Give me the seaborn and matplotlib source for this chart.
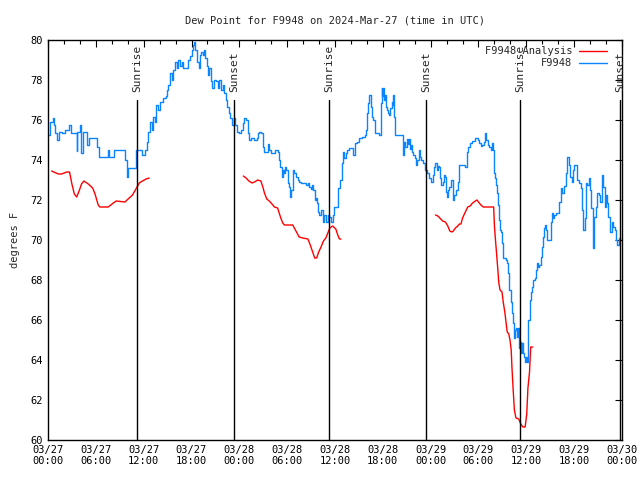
import numpy as np
import pandas as pd
import matplotlib
matplotlib.use('Agg')
import matplotlib.pyplot as plt
from matplotlib.lines import Line2D
import seaborn as sns

# hours since 2024-03-27 00:00 UTC, dew point in F
obs_hours = [0.0, 0.25, 0.6, 0.75, 0.9, 1.1, 1.4, 1.8, 2.1, 2.6, 2.9, 3.4, 3.6, 3.7, 4.05, 4.2, 4.4, 4.7,
             4.9, 5.1, 6.0, 6.2, 6.35, 7.3, 7.5, 7.7, 8.3, 9.5, 9.65, 9.9, 10.0, 10.8, 11.05, 11.5, 11.8,
             12.17, 12.4, 12.6, 12.8, 13.0, 13.2, 13.4, 13.6, 13.85, 14.05, 14.45, 14.8, 14.9, 15.1, 15.3,
             15.5, 15.7, 15.9, 16.15, 16.35, 16.55, 16.75, 16.9, 17.4, 17.5, 17.8, 18.0, 18.2, 18.35, 18.5,
             18.75, 18.9, 19.05, 19.25, 19.4, 19.55, 19.7, 19.9, 20.1, 20.25, 20.4, 20.6, 20.8, 21.1, 21.3,
             21.5, 21.7, 21.9, 22.1, 22.3, 22.5, 22.65, 22.8, 23.1, 23.35, 23.45, 23.65,
             24.0, 24.2, 24.4, 24.6, 24.85, 25.05, 25.2, 25.45, 25.9, 26.2, 26.3, 26.5, 26.7, 26.95, 27.15,
             27.45, 27.65, 27.75, 27.95, 28.25, 28.5, 28.8, 28.95, 29.15, 29.3, 29.5, 29.65, 29.75, 29.85,
             30.05, 30.25, 30.4, 30.5, 30.7, 30.9, 31.1, 31.3, 31.5, 31.75, 32.35, 32.6, 32.8, 33.0, 33.1,
             33.3, 33.45, 33.6, 33.75, 33.85, 34.05, 34.25, 34.45, 34.65, 34.85, 35.1, 35.3, 35.5, 35.7,
             35.85, 36.4, 36.6, 36.85, 36.9, 37.05, 37.15, 37.4, 37.55, 37.8, 38.1, 38.3, 38.5, 38.7, 39.05,
             39.35, 39.75, 39.9, 40.05, 40.2, 40.3, 40.5, 40.6, 40.8, 41.0, 41.55, 41.75, 41.85, 41.95,
             42.05, 42.2, 42.3, 42.4, 42.55, 42.7, 42.8, 42.95, 43.1, 43.25, 43.3, 43.45, 43.55, 44.25,
             44.5, 44.65, 44.8, 45.0, 45.1, 45.25, 45.4, 45.55, 45.65, 45.8, 46.05, 46.15, 46.3, 46.5,
             46.65, 46.85, 47.05, 47.3, 47.5, 47.6, 47.8, 48.05, 48.25, 48.45, 48.6, 48.75, 48.9, 49.1,
             49.2, 49.35, 49.5, 49.7, 49.85, 49.9, 50.05, 50.2, 50.35, 50.55, 50.7, 50.75, 50.85, 50.95,
             51.2, 51.4, 51.6, 52.35, 52.5, 52.7, 52.95, 53.2, 53.5, 53.7, 53.9, 54.1, 54.3, 54.5, 54.75,
             54.85, 54.95, 55.15, 55.35, 55.55, 55.7, 55.8, 55.9, 56.05, 56.2, 56.35, 56.45, 56.55, 56.65,
             56.8, 56.95, 57.05, 57.1, 57.45, 57.6, 57.7, 57.85, 58.05, 58.1, 58.2, 58.3, 58.45, 58.6,
             58.75, 58.8, 58.9, 59.05, 59.2, 59.3, 59.45, 59.55, 59.7, 59.85, 59.95, 60.1, 60.25, 60.4,
             60.55, 60.65, 60.8, 61.1, 61.2, 61.4, 61.5, 61.65, 61.8, 61.95, 62.05, 62.2, 62.35, 62.45,
             62.65, 62.9, 63.05, 63.2, 63.4, 63.5, 63.7, 63.9, 64.1, 64.3, 64.5, 64.75, 64.95, 65.15,
             65.3, 65.5, 65.7, 65.8, 66.0, 66.2, 66.4, 66.65, 66.85, 67.0, 67.15, 67.3, 67.45, 67.65,
             67.85, 68.0, 68.15, 68.3, 68.4, 68.55, 68.75, 68.9, 69.1, 69.3, 69.5, 69.65, 69.85, 70.05,
             70.15, 70.3, 70.5, 70.7, 70.9, 71.1, 71.3, 71.4, 71.6, 71.75]
obs_dp = [75.25, 75.9, 76.1, 75.75, 75.35, 75.0, 75.4, 75.35, 75.5, 75.75, 75.35, 75.35, 74.45, 75.4, 75.75,
          74.35, 75.4, 75.4, 74.75, 75.1, 75.1, 74.65, 74.15, 74.15, 74.5, 74.15, 74.5, 74.5, 74.0, 73.15,
          73.6, 73.6, 74.5, 74.5, 74.25,
          74.5, 74.9, 75.4, 75.9, 75.5, 76.15, 75.9, 76.75, 76.5, 76.9, 77.1, 77.2, 77.5, 77.75, 78.35,
          78.0, 78.5, 78.9, 78.6, 79.0, 78.7, 78.9, 78.6, 78.6, 79.0, 79.2, 79.5, 79.75, 79.9, 79.5,
          78.9, 78.6, 79.25, 79.4, 79.25, 79.5, 79.1, 78.7, 78.25, 78.6, 77.95, 77.6, 78.0, 77.95, 77.6,
          78.0, 77.5, 77.75, 77.35, 77.0, 76.65, 76.35, 76.1, 75.75, 76.1, 75.75, 75.4,
          75.35, 75.5, 75.85, 76.1, 76.0, 75.35, 75.0, 75.1, 75.0, 75.1, 75.35, 75.4, 75.35, 74.65, 74.4,
          74.4, 74.8, 74.5, 74.35, 74.35, 74.5, 74.4, 74.0, 73.65, 73.15, 73.5, 73.35, 73.65, 73.5,
          72.85, 72.65, 72.15, 72.5, 73.5, 73.35, 73.15, 73.0, 72.9, 72.85, 72.75, 72.85, 72.65, 72.55,
          72.75, 72.5, 72.0, 72.1, 71.85, 71.4, 71.25, 71.5, 70.9, 71.25, 70.9, 71.25, 71.15, 70.9, 71.25,
          71.65, 72.6, 73.0, 73.15, 73.85, 74.4, 74.1, 74.35, 74.5, 74.6, 74.6, 74.25, 74.85, 74.9, 75.1,
          75.15, 75.25, 75.5, 76.35, 76.85, 77.25, 76.65, 76.15, 76.0, 75.35, 75.25, 76.85, 77.6, 77.2,
          77.6, 77.0, 77.25, 76.65, 76.5, 76.35, 76.25, 76.6, 76.9, 76.75, 77.25, 76.15, 75.25, 75.25,
          74.25, 74.9, 74.65, 75.05, 74.8, 75.05, 74.55, 74.75, 74.4, 74.25, 74.1, 73.75, 74.0, 74.5,
          74.15, 74.0, 73.85, 73.5, 73.4, 73.35, 73.1, 72.9, 73.25, 73.65, 73.85, 73.5, 73.7, 73.65,
          73.1, 72.75, 72.9, 73.25, 73.15, 72.4, 72.15, 72.5, 72.65, 73.0, 73.0, 72.65, 72.0, 72.25,
          72.5, 72.9, 73.75, 73.65, 74.4, 74.65, 74.85, 74.95, 75.1, 75.1, 75.0, 74.85, 74.7, 74.75, 74.9,
          75.35, 75.0, 74.75, 74.65, 74.5, 74.85, 74.5, 73.35, 73.1, 72.75, 72.35, 71.75, 71.0, 70.5,
          70.4, 69.85, 69.35, 69.1, 69.0, 68.85, 68.35, 67.5, 67.4, 66.9, 66.35, 65.85, 65.1, 65.5,
          65.6, 65.15, 65.6, 64.6, 64.9, 64.35, 64.85, 64.35, 64.15, 63.9, 64.15, 63.9, 66.0, 67.0,
          67.4, 67.65, 68.0, 68.1, 68.5, 68.85, 68.65, 68.75, 69.15, 69.65, 70.15, 70.6, 70.75, 70.5,
          70.0, 70.0, 70.9, 71.35, 71.1, 71.25, 71.35, 71.35, 71.9, 72.6, 72.35, 72.7, 73.35, 74.15,
          73.75, 73.15, 72.9, 73.5, 73.75, 73.75, 73.0, 72.85, 72.6, 71.5, 70.5, 71.1, 72.85, 72.75,
          73.1, 72.5, 71.6, 70.75, 69.6, 71.15, 71.65, 72.35, 72.25, 71.9, 73.25, 72.65, 71.65, 72.25,
          71.85, 71.15, 70.4, 70.9, 70.65, 70.5, 70.0, 69.75, 70.1, 70.0]

# analysis series, three separate runs
ana_hours = [0.45, 1.3, 1.7, 2.35, 2.7, 3.0, 3.3, 3.6, 3.95, 4.2, 4.5, 5.05, 5.6, 5.9, 6.3, 6.5, 7.55,
             8.2, 8.55, 9.65, 10.05, 10.6, 11.1, 11.45, 11.85, 12.3, 12.7,
             24.5, 24.85, 25.2, 25.6, 25.9, 26.3, 26.7, 26.95, 27.15, 27.45, 27.75, 28.1, 28.4, 28.8, 29.0,
             29.2, 29.45, 29.65, 30.7, 31.1, 31.5, 31.95, 32.6, 32.85, 33.2, 33.45, 33.7, 33.95, 34.25,
             34.55, 34.85, 35.1, 35.35, 35.7, 36.1, 36.35, 36.55, 36.75,
             48.6, 48.9, 49.15, 49.5, 49.85, 50.15, 50.4, 50.65, 50.85, 51.1, 51.4, 51.6, 51.8, 52.0,
             52.35, 52.65, 52.95, 53.25, 53.6, 53.8, 54.0, 54.3, 54.6, 55.9, 56.0, 56.1, 56.3, 56.4, 56.55,
             56.7, 56.95, 57.1, 57.3, 57.45, 57.6, 57.8, 57.95, 58.1, 58.2, 58.35, 58.5, 58.7, 59.05,
             59.25, 59.55, 59.85, 60.05, 60.2, 60.4, 60.55, 60.8]
ana_dp = [73.45, 73.3, 73.3, 73.4, 73.4, 72.8, 72.3, 72.15, 72.5, 72.8, 72.95, 72.8, 72.6, 72.3, 71.75,
          71.65, 71.65, 71.85, 71.95, 71.9, 72.05, 72.25, 72.6, 72.85, 72.95, 73.05, 73.1,
          73.2, 73.1, 72.95, 72.85, 72.9, 73.0, 72.95, 72.65, 72.35, 72.05, 71.95, 71.8, 71.65, 71.6,
          71.35, 71.1, 70.85, 70.75, 70.75, 70.45, 70.15, 70.1, 70.05, 69.8, 69.4, 69.1, 69.1, 69.4,
          69.65, 69.95, 70.1, 70.35, 70.6, 70.7, 70.55, 70.25, 70.05, 70.05,
          71.25, 71.2, 71.1, 70.95, 70.9, 70.7, 70.45, 70.4, 70.45, 70.6, 70.7, 70.8, 70.8, 71.1,
          71.4, 71.65, 71.7, 71.85, 71.95, 72.0, 71.9, 71.75, 71.65, 71.65, 70.7, 70.15, 69.15, 68.65,
          67.85, 67.5, 67.4, 66.9, 66.4, 65.9, 65.4, 65.3, 65.0, 64.5, 63.6, 62.5, 61.5, 61.1, 61.05,
          60.85, 60.65, 60.65, 61.3, 62.6, 63.4, 64.65, 64.65]
ana_run = [1] * 27 + [2] * 38 + [3] * 51

event_hours = [11.15, 23.3, 35.25, 47.4, 59.2, 71.75]
event_labels = ['Sunrise', 'Sunset', 'Sunrise', 'Sunset', 'Sunrise', 'Sunset']

tick_hours = list(range(0, 73, 6))
tick_labels = ['03/27\n00:00', '03/27\n06:00', '03/27\n12:00', '03/27\n18:00',
               '03/28\n00:00', '03/28\n06:00', '03/28\n12:00', '03/28\n18:00',
               '03/29\n00:00', '03/29\n06:00', '03/29\n12:00', '03/29\n18:00',
               '03/30\n00:00']

red = '#ff0000'
blue = '#0a84ff'

obs = pd.DataFrame({'hour': obs_hours, 'dp': obs_dp})
ana = pd.DataFrame({'hour': ana_hours, 'dp': ana_dp, 'run': ana_run})

sns.set_theme(style='white')
plt.rcParams['font.family'] = ['DejaVu Sans Mono']
plt.rcParams['font.size'] = 7.5

fig = plt.figure(figsize=(6.4, 4.8), dpi=100)
ax = fig.add_axes([48 / 640, 40 / 480, 574 / 640, 400 / 480])

sns.lineplot(data=ana, x='hour', y='dp', units='run', estimator=None, color=red,
             lw=1, ax=ax, legend=False)
sns.lineplot(data=obs, x='hour', y='dp', color=blue, lw=1, ax=ax, legend=False,
             drawstyle='steps-post')

for h, lab in zip(event_hours, event_labels):
    ax.plot([h, h], [60, 77], color='black', lw=1)
    ax.text(h, 77.4, lab, rotation=90, ha='center', va='bottom', fontsize=8)

ax.set_xlim(0, 72)
ax.set_ylim(60, 80)
ax.set_xticks(tick_hours)
ax.set_xticklabels(tick_labels)
ax.set_xticks(range(0, 73, 2), minor=True)
ax.set_yticks(range(60, 81, 2))
ax.tick_params(which='both', direction='in', top=True, right=True, color='black', labelsize=7.5,
               labelcolor='black')
ax.tick_params(which='major', length=5, width=0.8)
ax.tick_params(which='minor', length=3, width=0.8)
for s in ax.spines.values():
    s.set_color('black')
    s.set_linewidth(1)

ax.set_xlabel('')
ax.set_ylabel('degrees F', fontsize=7.5, labelpad=8)
ax.set_title('Dew Point for F9948 on 2024-Mar-27 (time in UTC)', fontsize=7.5, pad=12)

handles = [Line2D([], [], color=red, lw=1), Line2D([], [], color=blue, lw=1)]
ax.legend(handles, ['F9948 Analysis', 'F9948'], loc='upper right', frameon=False,
          bbox_to_anchor=(1 - 9 / 574, 1), markerfirst=False, handlelength=2.7,
          fontsize=7.5, borderaxespad=0.2, labelspacing=0.2, handletextpad=0.6)

fig.savefig('out.png', dpi=100)
